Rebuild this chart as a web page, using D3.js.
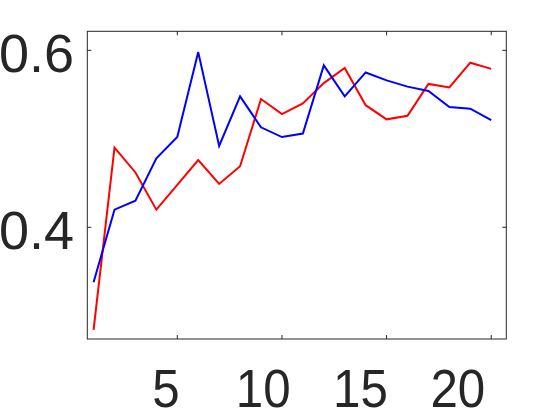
<!DOCTYPE html>
<html><head><meta charset="utf-8">
<script src="https://cdn.jsdelivr.net/npm/d3@7/dist/d3.min.js"></script>
<style>body{margin:0;background:#fff}svg{display:block}</style>
</head><body>
<svg id="c" width="560" height="420"></svg>
<script>
const xs = d3.range(1, 21);
const redValues = [0.284,0.490,0.462,0.420,0.448,0.476,0.449,0.469,0.545,0.528,0.540,0.563,0.580,0.538,0.522,0.526,0.562,0.558,0.586,0.579];
const blueValues = [0.338,0.420,0.430,0.478,0.502,0.598,0.492,0.548,0.513,0.502,0.506,0.583,0.548,0.575,0.566,0.559,0.554,0.536,0.534,0.521];
const xTicks = [5,10,15,20];
const yTicks = [0.4,0.6];

const svg = d3.select('#c');
const L=87.3, R=506.3, T=31.3, B=339;
const x = d3.scaleLinear().domain([0.7,20.72]).range([L,R]);
const y = d3.scaleLinear().domain([0.2738,0.6215]).range([B,T]);
const ink = '#262626';

svg.append('rect').attr('x',L).attr('y',T).attr('width',R-L).attr('height',B-T)
  .attr('fill','none').attr('stroke',ink).attr('stroke-width',1);

const tk = 4;
const g = svg.append('g').attr('stroke',ink).attr('stroke-width',1);
xTicks.forEach(v=>{
  g.append('line').attr('x1',x(v)).attr('x2',x(v)).attr('y1',B).attr('y2',B-tk);
  g.append('line').attr('x1',x(v)).attr('x2',x(v)).attr('y1',T).attr('y2',T+tk);
});
yTicks.forEach(v=>{
  g.append('line').attr('y1',y(v)).attr('y2',y(v)).attr('x1',L).attr('x2',L+tk);
  g.append('line').attr('y1',y(v)).attr('y2',y(v)).attr('x1',R).attr('x2',R-tk);
});

const font = "'Liberation Sans', Arial, sans-serif";
svg.append('g').attr('transform','translate(1,0) scale(0.93,1)')
  .selectAll('text').data(xTicks).join('text')
  .attr('x',d=>x(d)).attr('y',407.3).attr('text-anchor','middle')
  .attr('font-family',font).attr('font-size',53).attr('fill',ink).text(d=>d);
svg.append('g').selectAll('text').data(yTicks).join('text')
  .attr('x',74).attr('y',d=>y(d)+22).attr('text-anchor','end')
  .attr('font-family',font).attr('font-size',54).attr('fill',ink).text(d=>d.toFixed(1));

const line = d3.line().x((d,i)=>x(xs[i])).y(d=>y(d));
svg.append('path').datum(redValues).attr('d',line).attr('fill','none').attr('stroke','#ff0000').attr('stroke-width',2);
svg.append('path').datum(blueValues).attr('d',line).attr('fill','none').attr('stroke','#0000ff').attr('stroke-width',2);
</script>
</body></html>
